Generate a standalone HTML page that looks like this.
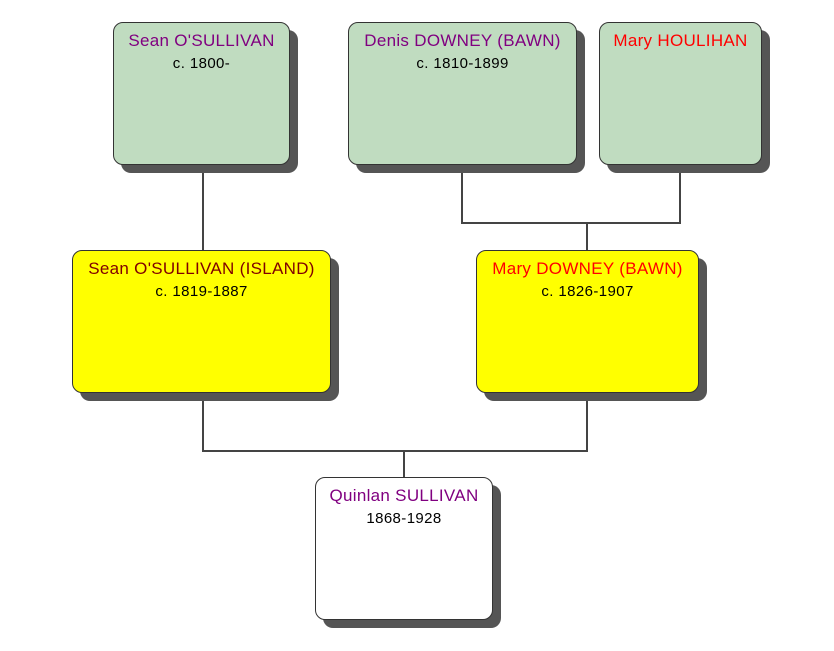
<!DOCTYPE html>
<html><head><meta charset="utf-8"><style>
body{margin:0;width:834px;height:651px;background:#fff;position:relative;overflow:hidden;font-family:"Liberation Sans",Arial,sans-serif}
.b{position:absolute;border:1px solid #333;border-radius:10px;box-shadow:8px 8px 0 #555;text-align:center;box-sizing:border-box;white-space:nowrap}
.n{font-size:17px;margin-top:8px;line-height:20px;letter-spacing:0.3px}
.d{font-size:15px;color:#000;margin-top:4px;letter-spacing:0.4px}
.g{background:#c0dcc0}.y{background:#ffff00}.w{background:#fff}
.l{position:absolute;background:#444}
</style></head><body>
<div class="l" style="left:202px;top:165px;width:2px;height:86px"></div>
<div class="l" style="left:461px;top:165px;width:2px;height:59px"></div>
<div class="l" style="left:679px;top:165px;width:2px;height:59px"></div>
<div class="l" style="left:461px;top:222px;width:220px;height:2px"></div>
<div class="l" style="left:586px;top:222px;width:2px;height:29px"></div>
<div class="l" style="left:202px;top:393px;width:2px;height:59px"></div>
<div class="l" style="left:586px;top:393px;width:2px;height:59px"></div>
<div class="l" style="left:202px;top:450px;width:386px;height:2px"></div>
<div class="l" style="left:403px;top:450px;width:2px;height:28px"></div>

<div class="b g" style="left:113px;top:22px;width:177px;height:143px"><div class="n" style="color:#800080">Sean O'SULLIVAN</div><div class="d">c. 1800-</div></div>
<div class="b g" style="left:348px;top:22px;width:229px;height:143px"><div class="n" style="color:#800080">Denis DOWNEY (BAWN)</div><div class="d">c. 1810-1899</div></div>
<div class="b g" style="left:599px;top:22px;width:163px;height:143px"><div class="n" style="color:#ff0000">Mary HOULIHAN</div></div>
<div class="b y" style="left:72px;top:250px;width:259px;height:143px"><div class="n" style="color:#800000">Sean O'SULLIVAN (ISLAND)</div><div class="d">c. 1819-1887</div></div>
<div class="b y" style="left:476px;top:250px;width:223px;height:143px"><div class="n" style="color:#ff0000">Mary DOWNEY (BAWN)</div><div class="d">c. 1826-1907</div></div>
<div class="b w" style="left:315px;top:477px;width:178px;height:143px"><div class="n" style="color:#800080">Quinlan SULLIVAN</div><div class="d">1868-1928</div></div>
</body></html>
